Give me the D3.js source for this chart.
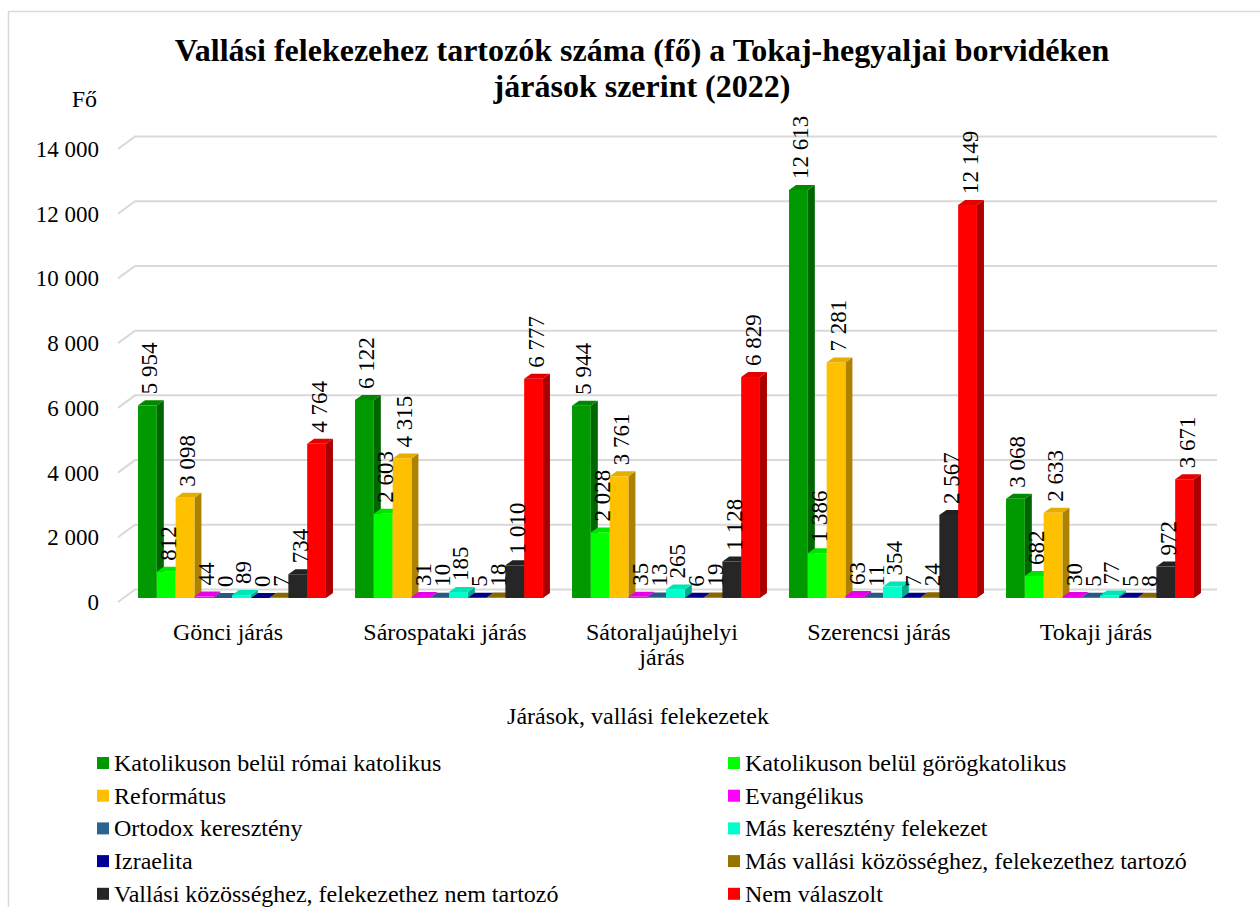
<!DOCTYPE html>
<html>
<head>
<meta charset="utf-8">
<script src="https://cdn.jsdelivr.net/npm/d3@7"></script>
<style>
  body { margin: 0; background: #fff; }
</style>
</head>
<body>
<svg width="1260" height="907" font-family="'Liberation Serif', 'DejaVu Serif', serif"></svg>
<script>
// categories (járások)
const CATEGORIES = ['Gönci járás', 'Sárospataki járás', 'Sátoraljaújhelyi járás', 'Szerencsi járás', 'Tokaji járás'];

// series names, in legend order
const SERIES = [
    'Katolikuson belül római katolikus',
    'Katolikuson belül görögkatolikus',
    'Református',
    'Evangélikus',
    'Ortodox keresztény',
    'Más keresztény felekezet',
    'Izraelita',
    'Más vallási közösséghez, felekezethez tartozó',
    'Vallási közösséghez, felekezethez nem tartozó',
    'Nem válaszolt'
];
const COLORS = ['#009900', '#00ff00', '#ffc000', '#ff00ff', '#2b6393', '#00ffcc', '#000099', '#997300', '#262626', '#ff0000'];

// values per series, one per járás
const ROMAI_KAT = [5954, 6122, 5944, 12613, 3068];
const GOROG_KAT = [812, 2603, 2028, 1386, 682];
const REFORMATUS = [3098, 4315, 3761, 7281, 2633];
const EVANGELIKUS = [44, 31, 35, 63, 30];
const ORTODOX = [0, 10, 13, 11, 5];
const MAS_KERESZTENY = [89, 185, 265, 354, 77];
const IZRAELITA = [0, 5, 6, 7, 5];
const MAS_VALLASI = [7, 18, 19, 24, 8];
const NEM_TARTOZO = [734, 1010, 1128, 2567, 972];
const NEM_VALASZOLT = [4764, 6777, 6829, 12149, 3671];

const VALUES = [ROMAI_KAT, GOROG_KAT, REFORMATUS, EVANGELIKUS, ORTODOX, MAS_KERESZTENY, IZRAELITA, MAS_VALLASI, NEM_TARTOZO, NEM_VALASZOLT];

const Y_TICKS = [0, 2000, 4000, 6000, 8000, 10000, 12000, 14000];

const FONT = "'Liberation Serif', 'DejaVu Serif', serif";

const hu = d3.formatLocale({ decimal: ',', thousands: ' ', grouping: [3], currency: ['', ' Ft'] });
const fmt = hu.format(',d');

const svg = d3.select('svg');

// chart frame
svg.append('rect')
    .attr('x', 8.5).attr('y', 11.5)
    .attr('width', 1300).attr('height', 1000)
    .attr('fill', 'none')
    .attr('stroke', '#d9d9d9')
    .attr('stroke-width', 1.5);

// 3d offsets
const DX = 7, DY = -5;           // bar depth
const WALL_DX = 17, WALL_DY = -12.5;

const x0 = d3.scaleBand()
    .domain(CATEGORIES)
    .range([123.5, 1208.5])
    .paddingInner(0.134)
    .paddingOuter(0.067);
const x1 = d3.scaleBand()
    .domain(d3.range(SERIES.length))
    .range([0, x0.bandwidth()]);
const yScale = d3.scaleLinear().domain([0, 14000]).range([598, 145]);

// gridlines with back wall + left wall diagonal
const grid = svg.append('g');
Y_TICKS.forEach(v => {
    const y = yScale(v);
    grid.append('path')
        .attr('d', `M118,${y + 4}L${118 + WALL_DX},${y + 4 + WALL_DY}L1217,${y + 4 + WALL_DY}`)
        .attr('fill', 'none')
        .attr('stroke', '#d9d9d9')
        .attr('stroke-width', 2);
});

// y tick labels
svg.append('g').selectAll('text')
    .data(Y_TICKS)
    .enter()
    .append('text')
    .attr('x', 99)
    .attr('y', d => yScale(d) + 4)
    .attr('dy', '0.35em')
    .attr('text-anchor', 'end')
    .style('font-family', FONT)
    .style('font-size', '23px')
    .text(d => fmt(d));

svg.append('text')
    .attr('x', 97).attr('y', 107)
    .attr('text-anchor', 'end')
    .style('font-family', FONT)
    .style('font-size', '24px')
    .text('Fő');

// bars
const rows = [];
CATEGORIES.forEach((cat, ci) => {
    VALUES.forEach((vals, si) => {
        rows.push({ cat: cat, si: si, value: vals[ci] });
    });
});

const bars = svg.append('g')
    .selectAll('.bar')
    .data(rows)
    .enter()
    .append('g')
    .classed('bar', true);

const bw = x1.bandwidth();
const base = yScale(0);

bars.append('path')   // side
    .attr('d', d => {
        const x = x0(d.cat) + x1(d.si) + bw, y = yScale(d.value);
        return `M${x},${y}L${x + DX},${y + DY}L${x + DX},${base + DY}L${x},${base}Z`;
    })
    .attr('fill', d => d3.color(COLORS[d.si]).darker(1.1));

bars.append('path')   // top
    .attr('d', d => {
        const x = x0(d.cat) + x1(d.si), y = yScale(d.value);
        return `M${x},${y}L${x + DX},${y + DY}L${x + bw + DX},${y + DY}L${x + bw},${y}Z`;
    })
    .attr('fill', d => d3.color(COLORS[d.si]).darker(0.3));

bars.append('rect')   // front
    .attr('x', d => x0(d.cat) + x1(d.si))
    .attr('y', d => yScale(d.value))
    .attr('width', bw)
    .attr('height', d => base - yScale(d.value))
    .attr('fill', d => COLORS[d.si]);

// value labels, rotated
svg.append('g')
    .selectAll('text')
    .data(rows)
    .enter()
    .append('text')
    .attr('transform', d => {
        const x = x0(d.cat) + x1(d.si) + bw / 2 + 2;
        const y = yScale(d.value) + DY - 6;
        return `translate(${x},${y}) rotate(-90)`;
    })
    .attr('dy', '0.35em')
    .style('font-family', FONT)
    .style('font-size', '23px')
    .text(d => fmt(d.value));

// category labels (wrapped)
const catLabels = svg.append('g')
    .selectAll('text')
    .data(CATEGORIES)
    .enter()
    .append('text')
    .attr('x', d => x0(d) + x0.bandwidth() / 2 - 4)
    .attr('y', 640)
    .attr('text-anchor', 'middle')
    .style('font-family', FONT)
    .style('font-size', '24px');

catLabels.each(function(d) {
    const t = d3.select(this);
    const words = d.split(' ');
    let line = [];
    let tspan = t.append('tspan').attr('x', t.attr('x')).attr('dy', 0);
    words.forEach(w => {
        line.push(w);
        tspan.text(line.join(' '));
        if (tspan.node().getComputedTextLength() > 190 && line.length > 1) {
            line.pop();
            tspan.text(line.join(' '));
            line = [w];
            tspan = t.append('tspan').attr('x', t.attr('x')).attr('dy', 25).text(w);
        }
    });
});

// title
const title = svg.append('text')
    .attr('x', 641)
    .attr('text-anchor', 'middle')
    .style('font-family', FONT)
    .style('font-size', '32px')
    .style('font-weight', 'bold');
title.append('tspan').attr('x', 642).attr('y', 61).text('Vallási felekezehez tartozók száma (fő) a Tokaj-hegyaljai borvidéken');
title.append('tspan').attr('x', 642).attr('y', 97).text('járások szerint (2022)');

// axis title
svg.append('text')
    .attr('x', 638).attr('y', 724)
    .attr('text-anchor', 'middle')
    .style('font-family', FONT)
    .style('font-size', '24px')
    .text('Járások, vallási felekezetek');

// legend: two columns
const legend = svg.append('g')
    .selectAll('g')
    .data(SERIES)
    .enter()
    .append('g')
    .attr('transform', (d, i) => `translate(${i % 2 === 0 ? 97 : 728},${763 + Math.floor(i / 2) * 32.7})`);

legend.append('rect')
    .attr('x', 0).attr('y', -6)
    .attr('width', 12).attr('height', 12)
    .attr('fill', (d, i) => COLORS[i]);

legend.append('text')
    .attr('x', 17)
    .attr('dy', '0.33em')
    .style('font-family', FONT)
    .style('font-size', '24px')
    .text(d => d);
</script>
</body>
</html>
